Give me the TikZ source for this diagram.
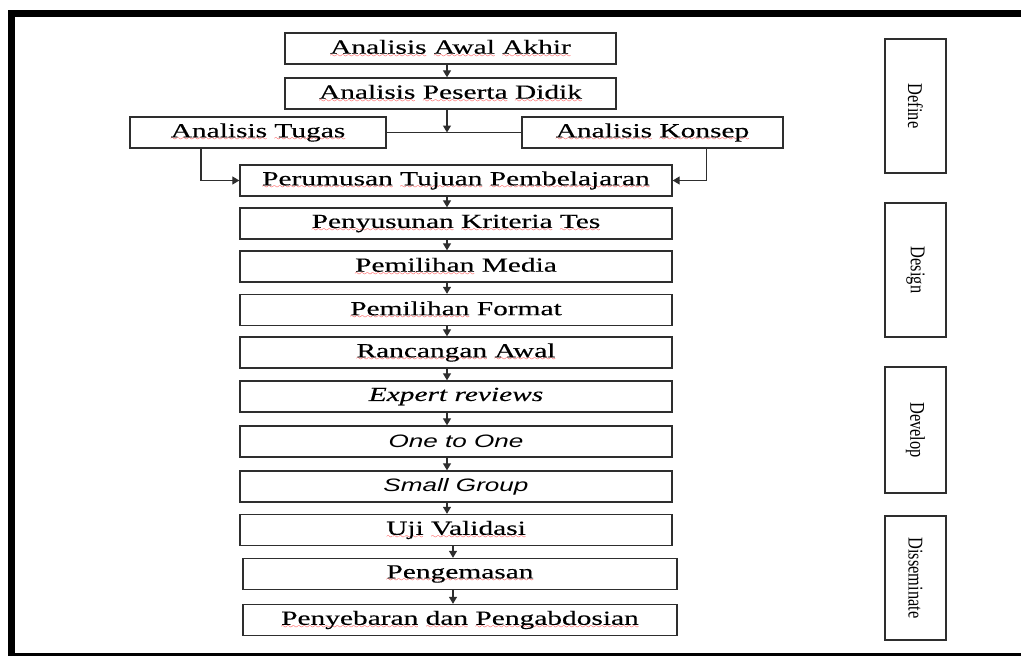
\documentclass[tikz,border=0pt]{standalone}
\usepackage{fontspec}
\usetikzlibrary{arrows.meta,calc}

\newfontfamily\boxfont[FakeStretch=1.47,FakeBold=0.3]{Liberation Serif}
\newfontfamily\boxsans[FakeStretch=1.45]{Liberation Sans}
\newfontfamily\sidefont[FakeStretch=0.78]{Liberation Serif}

\newlength{\du}
\setlength{\du}{1pt}

\definecolor{linegray}{rgb}{0.180000, 0.180000, 0.180000}

% red spell-check wave under a word
\font\wavefnt=lasy7
\newcommand{\sqw}[1]{\setbox0\hbox{#1}%
  \rlap{\textcolor{red}{\lower3.5pt\hbox to\wd0{\xleaders\hbox{\wavefnt\char58}\hfil}}}\box0\relax}

\tikzset{
  stagebox/.style={draw=linegray, line width=1.4\du, minimum height=31\du,
    inner sep=0pt, font=\boxfont\fontsize{20}{24}\selectfont},
  phasebox/.style={draw=linegray, line width=1.4\du, minimum height=61\du,
    inner sep=0pt, rotate=-90, font=\sidefont\fontsize{21}{24}\selectfont},
  flow/.style={draw=linegray, line width=1.3\du, -{Triangle[length=7pt,width=8pt]}},
}

\begin{document}
\begin{tikzpicture}
\pgftransformxscale{1.000000}
\pgftransformyscale{-1.000000}
\useasboundingbox (0\du,0\du) rectangle (1021\du,656\du);
% frame
\fill[black] (8\du,10\du) rectangle (1021\du,17\du);
\fill[black] (8\du,10\du) rectangle (15\du,656\du);
\fill[black] (8\du,653\du) rectangle (1021\du,656\du);
% define
\node[stagebox, minimum width=331\du] (awal) at (450.5\du,48.5\du)
  {\sqw{Analisis} \sqw{Awal} \sqw{Akhir}};
\node[stagebox, minimum width=331\du] (peserta) at (450.5\du,93.5\du)
  {\sqw{Analisis} \sqw{Peserta} \sqw{Didik}};
\node[stagebox, minimum width=256\du] (tugas) at (258\du,132.5\du)
  {\sqw{Analisis} \sqw{Tugas}};
\node[stagebox, minimum width=261\du] (konsep) at (652.5\du,132.5\du)
  {\sqw{Analisis} \sqw{Konsep}};
\node[stagebox, minimum width=432\du] (tujuan) at (456\du,180.5\du)
  {\sqw{Perumusan} \sqw{Tujuan} \sqw{Pembelajaran}};
% design
\node[stagebox, minimum width=432\du] (kriteria) at (456\du,223.5\du)
  {\sqw{Penyusunan} \sqw{Kriteria} \sqw{Tes}};
\node[stagebox, minimum width=432\du] (media) at (456\du,266.5\du)
  {\sqw{Pemilihan} Media};
\node[stagebox, minimum width=432\du] (format) at (456\du,310\du)
  {\sqw{Pemilihan} Format};
\node[stagebox, minimum width=432\du] (rancangan) at (456\du,352.5\du)
  {\sqw{Rancangan} \sqw{Awal}};
% develop
\node[stagebox, minimum width=432\du] (expert) at (456\du,396.5\du)
  {\itshape Expert reviews};
\node[stagebox, minimum width=432\du] (onetoone) at (456\du,441.5\du)
  {\boxsans\itshape\fontsize{18}{21}\selectfont One to One};
\node[stagebox, minimum width=432\du] (smallgrp) at (456\du,486.5\du)
  {\boxsans\itshape\fontsize{18}{21}\selectfont Small Group};
% disseminate
\node[stagebox, minimum width=432\du] (validasi) at (456\du,530\du)
  {\sqw{Uji} \sqw{Validasi}};
\node[stagebox, minimum width=434\du] (kemas) at (460\du,574\du)
  {\sqw{Pengemasan}};
\node[stagebox, minimum width=434\du] (sebar) at (460\du,620\du)
  {\sqw{Penyebaran} \sqw{dan} \sqw{Pengabdosian}};
% phases
\node[phasebox, minimum width=134\du] (define) at (915.5\du,106\du) {Define};
\node[phasebox, minimum width=134\du] (design) at (915.5\du,270\du) {Design};
\node[phasebox, minimum width=126\du] (develop) at (915.5\du,430\du) {Develop};
\node[phasebox, minimum width=124\du] (dissem) at (915.5\du,578\du) {Disseminate};
% arrows
\coordinate (axis) at (447\du,0\du);
\coordinate (axisb) at (453\du,0\du);
\draw[flow] (awal.south -| axis) -- (peserta.north -| axis);
\draw[draw=linegray, line width=1.3\du] (tugas.east) -- (konsep.west);
\draw[flow] (peserta.south -| axis) -- (tugas.east -| axis);
\draw[flow] ($(tugas.south)+(-57\du,0)$) |- (tujuan.west);
\draw[flow] ($(konsep.south)+(54\du,0)$) |- (tujuan.east);
\draw[flow] (tujuan.south -| axis) -- (kriteria.north -| axis);
\draw[flow] (kriteria.south -| axis) -- (media.north -| axis);
\draw[flow] (media.south -| axis) -- (format.north -| axis);
\draw[flow] (format.south -| axis) -- (rancangan.north -| axis);
\draw[flow] (rancangan.south -| axis) -- (expert.north -| axis);
\draw[flow] (expert.south -| axis) -- (onetoone.north -| axis);
\draw[flow] (onetoone.south -| axis) -- (smallgrp.north -| axis);
\draw[flow] (smallgrp.south -| axis) -- (validasi.north -| axis);
\draw[flow] (validasi.south -| axisb) -- (kemas.north -| axisb);
\draw[flow] (kemas.south -| axisb) -- (sebar.north -| axisb);
\end{tikzpicture}
\end{document}
